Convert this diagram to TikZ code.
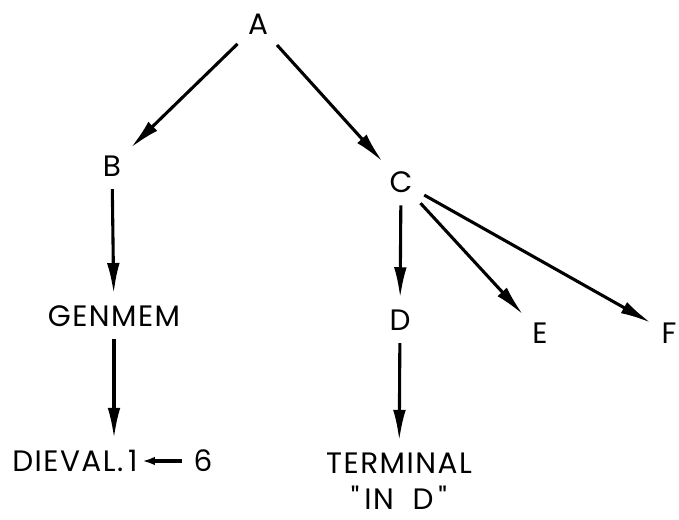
\documentclass[tikz,border=0pt]{standalone}
\usepackage{fontspec}
\setmainfont[LetterSpace=5]{Poppins}
\usetikzlibrary{arrows.meta}

\begin{document}
\begin{tikzpicture}[
  x=0.025cm, y=-0.025cm,
  font=\fontsize{21}{25}\selectfont,
  lbl/.style={inner sep=3pt},
  arrow/.style={-{Latex[length=22pt,width=9pt]}, line width=2.2pt,
                shorten <=6pt, shorten >=5pt},
  small/.style={-{Latex[length=9pt,width=6pt]}, line width=2.2pt,
                shorten <=5pt},
]
\useasboundingbox (0,0) rectangle (679,520);

% tree labels
\node[lbl] (A) at (258,24) {A};
\node[lbl] (B) at (112,166) {B};
\node[lbl] (C) at (401,182) {C};
\node[lbl] (G) at (114,316) {GENMEM};
\node[lbl] (D) at (400,320) {D};
\node[lbl] (E) at (540,333) {E};
\node[lbl, anchor=east] (F) at (681,333) {F};
\node[lbl] (DV) at (75,461) {DIEVAL.\,1};
\node[lbl] (six) at (203,461) {6};
\node[lbl, align=center] (T) at (399,481)
  {TERMINAL\\[1pt]\textquotedbl\,IN\ \ D\,\textquotedbl};

% branches
\draw[arrow] (A) -- (B);
\draw[arrow] (A) -- (C);
\draw[arrow] (B) -- (G);
\draw[arrow] (G) -- (G |- DV.north);
\draw[arrow] (C) -- (D);
\draw[arrow] (D) -- (T);
\draw[arrow] (C) -- (E);
\draw[arrow] (C) -- (F);
\draw[small] (six) -- (DV);
\end{tikzpicture}
\end{document}
